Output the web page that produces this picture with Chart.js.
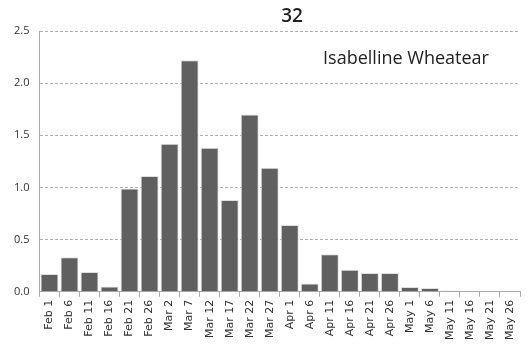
<!DOCTYPE html>
<html><head><meta charset="utf-8">
<script src="https://cdn.jsdelivr.net/npm/chart.js@4/dist/chart.umd.min.js"></script>
<style>html,body{margin:0;padding:0;background:#fff}#wrap{width:528px;height:352px}</style>
</head><body><div id="wrap"><canvas id="c" width="528" height="352"></canvas></div>
<script>
const categories = ["Feb 1","Feb 6","Feb 11","Feb 16","Feb 21","Feb 26","Mar 2","Mar 7","Mar 12","Mar 17","Mar 22","Mar 27","Apr 1","Apr 6","Apr 11","Apr 16","Apr 21","Apr 26","May 1","May 6","May 11","May 16","May 21","May 26"];
const values = [0.17,0.33,0.19,0.05,0.99,1.11,1.42,2.22,1.38,0.88,1.70,1.19,0.64,0.08,0.36,0.21,0.18,0.18,0.045,0.035,0.012,0,0,0];
const yTicks = [0,0.5,1.0,1.5,2.0,2.5];
const chartTitle = "32";
const speciesName = "Isabelline Wheatear";

const textPlugin = {
  id: 'texts',
  afterDraw(chart) {
    const ctx = chart.ctx;
    ctx.save();
    ctx.fillStyle = '#222';
    ctx.textBaseline = 'middle';
    ctx.textAlign = 'center';
    ctx.font = '600 19px "Open Sans"';
    ctx.fillText(chartTitle, 292, 17);
    ctx.font = '18px "Open Sans"';
    ctx.fillText(speciesName, 406, 59);
    ctx.restore();
  }
};

new Chart(document.getElementById('c'), {
  type: 'bar',
  data: { labels: categories, datasets: [{ data: values, backgroundColor: '#606060', borderColor: '#e0e0e0', borderWidth: 1, barPercentage: 0.9, categoryPercentage: 1.0 }] },
  options: {
    responsive: false, animation: false, devicePixelRatio: 1,
    layout: { padding: { left: 4, right: 8, top: 31, bottom: 9 } },
    plugins: { legend: { display: false }, tooltip: { enabled: false } },
    scales: {
      x: {
        offset: true,
        grid: { drawOnChartArea: false, drawTicks: true, tickLength: 5, color: '#aaa', offset: true },
        border: { color: '#aaa', width: 1 },
        ticks: { color: '#333', font: { family: '"DejaVu Sans"', size: 11 }, maxRotation: 90, minRotation: 90, autoSkip: false, padding: 3 }
      },
      y: {
        min: 0, max: 2.5,
        afterBuildTicks(axis) { axis.ticks = yTicks.map(v => ({ value: v })); },
        grid: { color: '#b0b0b0', drawTicks: false },
        border: { color: '#aaa', width: 1, dash: [3,2] },
        ticks: { color: '#333', font: { family: '"Open Sans"', size: 11 }, padding: 10, callback: v => v.toFixed(1) }
      }
    }
  },
  plugins: [textPlugin]
});
</script></body></html>
